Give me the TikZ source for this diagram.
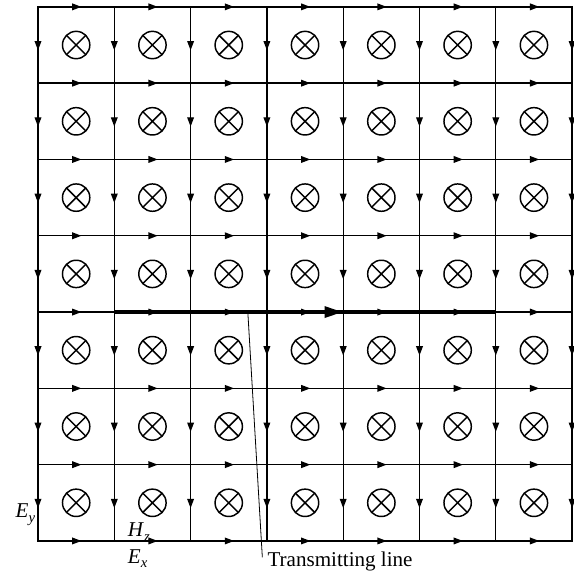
\documentclass[tikz,border=0pt]{standalone}
\usepackage{fontspec}
\setmainfont{Liberation Serif}
\usetikzlibrary{arrows.meta,decorations.markings}

\begin{document}
\begin{tikzpicture}
  [x=57.2pt,y=57.2pt,line width=1pt,line cap=rect,
   edge/.style={postaction={decorate},decoration={markings,
     mark=at position 0.57 with {\arrow{Triangle[length=7pt,width=5pt]}}}},
   hz/.style={circle,draw,line width=1.1pt,inner sep=0pt,minimum size=20.5pt,
     path picture={\draw[line width=1.1pt]
       (path picture bounding box.north west) -- (path picture bounding box.south east)
       (path picture bounding box.north east) -- (path picture bounding box.south west);}},
   lbl/.style={font=\fontsize{15.8}{18}\selectfont,inner sep=0pt}]
  \useasboundingbox (-0.498,-0.4325) rectangle (7.025,7.09);
  % grid points
  \foreach \i in {0,...,7}
    \foreach \j in {0,...,7}
      \coordinate (g-\i-\j) at (\i,\j);
  % transmitting line
  \draw[line width=3pt,line cap=butt,postaction={decorate},decoration={markings,
    mark=at position 0.6 with {\arrow{Triangle[length=14pt,width=8pt]}}}]
    (g-1-3) -- (g-6-3);
  % E_x edges
  \foreach \i [count=\k from 1] in {0,...,6}
    \foreach \j in {0,...,7}
      \draw[edge] (g-\i-\j) -- (g-\k-\j);
  % E_y edges
  \foreach \i in {0,...,7}
    \foreach \j [count=\k from 1] in {0,...,6}
      \draw[edge] (g-\i-\k) -- (g-\i-\j);
  % H_z cells
  \foreach \i in {0,...,6}
    \foreach \j in {0,...,6}
      \node[hz] (h-\i-\j) at (\i+0.5,\j+0.5) {};
  % labels
  \node[lbl,anchor=base east] (ey) at (-0.03,0.31) {\textit{E}\raisebox{-0.5ex}{\fontsize{11}{12}\selectfont\textit{y}}};
  \node[lbl,anchor=base west] (hzl) at (1.17,0.06) {\textit{H}\raisebox{-0.5ex}{\fontsize{11}{12}\selectfont\textit{z}}};
  \node[lbl,anchor=base west] (ex) at (1.17,-0.29) {\textit{E}\raisebox{-0.5ex}{\fontsize{11}{12}\selectfont\textit{x}}};
  \node[lbl,anchor=base west] (tl) at (3.0,-0.34) {Transmitting line};
  \coordinate (lead-top) at (2.75,3);
  \coordinate (lead-end) at (2.94,-0.21);
  \draw[line width=0.6pt] (lead-top) -- (lead-end);
\end{tikzpicture}
\end{document}
